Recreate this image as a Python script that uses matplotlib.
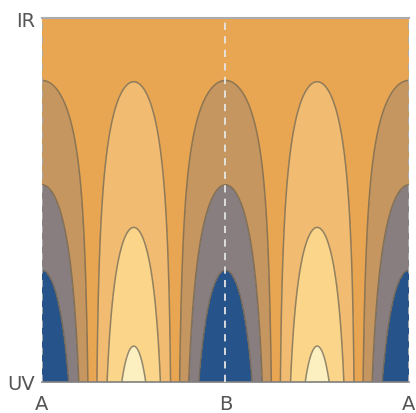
import numpy as np
import matplotlib.pyplot as plt

# contour levels (equally spaced, like the original) and the band colours, low -> high
levels = [1, 2, 3, 4, 5, 6]
band_colors = ["#265389", "#887e80", "#c59660", "#e9a652", "#f1bc71", "#fad58a", "#fdf0c0"]

x_ticks = [0.0, 0.5, 1.0]
x_labels = ["A", "B", "A"]
y_ticks = [0.0, 1.0]
y_labels = ["UV", "IR"]

# field parameters: f = offset(y) - amplitude(y) * cos(4*pi*x)
amp_bottom = 3.27
amp_decay = 0.547
amp_growth = 1.8
offset_bottom = 3.0
offset_slope = 0.6


def field(x, y):
    amp = amp_bottom * np.exp(-amp_decay * (np.exp(amp_growth * y) - 1))
    offset = offset_bottom + offset_slope * y
    return offset - amp * np.cos(4 * np.pi * x)


def plot_chart():
    xs = np.linspace(0, 1, 700)
    ys = np.linspace(0, 1, 700)
    X, Y = np.meshgrid(xs, ys)
    Z = field(X, Y)

    fig = plt.figure(figsize=(4.16, 4.14), dpi=100)
    ax = fig.add_axes([0.101, 0.075, 0.882, 0.879])

    bounds = [Z.min() - 1] + levels + [Z.max() + 1]
    ax.contourf(X, Y, Z, levels=bounds, colors=band_colors)
    ax.contour(X, Y, Z, levels=levels, colors="#6f6552", linewidths=1.1, alpha=0.75)

    # high symmetry points
    for xv in x_ticks:
        col = "#e6e6e6" if xv == 0.5 else "#a9acb0"
        ax.axvline(xv, color=col, lw=1.3, ls=(0, (4, 3.5)), zorder=5)

    ax.set_xlim(0, 1)
    ax.set_ylim(0, 1)
    ax.set_xticks(x_ticks)
    ax.set_xticklabels(x_labels)
    ax.set_yticks(y_ticks)
    ax.set_yticklabels(y_labels)
    ax.tick_params(length=0, labelsize=14, labelcolor="#555555")
    ax.tick_params(axis="x", pad=8.5)
    ax.tick_params(axis="y", pad=5)

    ax.spines["left"].set_visible(False)
    ax.spines["right"].set_visible(False)
    ax.spines["top"].set_color("#a9adb1")
    ax.spines["top"].set_linewidth(1.5)
    ax.spines["bottom"].set_color("#7f7f7f")
    ax.spines["bottom"].set_linewidth(1.2)

    fig.savefig("out.png", dpi=100)


plot_chart()
